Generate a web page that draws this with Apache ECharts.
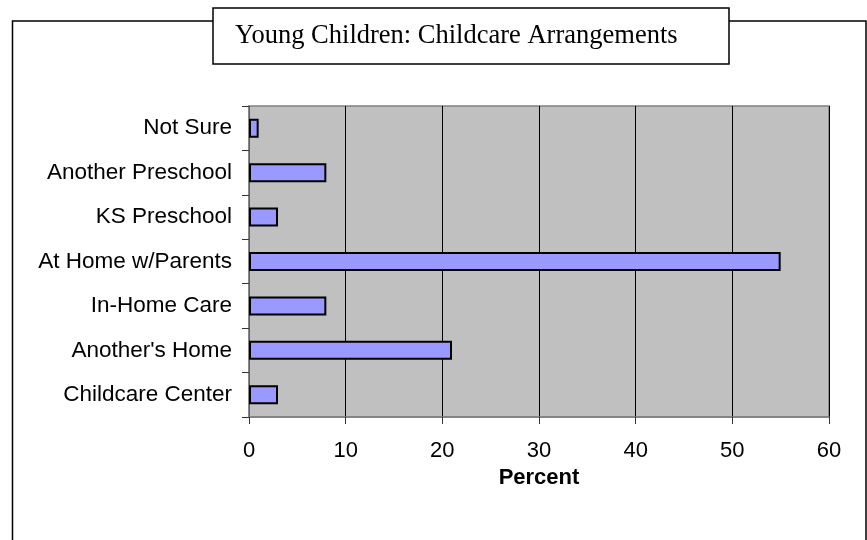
<!DOCTYPE html>
<html>
<head>
<meta charset="utf-8">
<script src="https://cdn.jsdelivr.net/npm/echarts@6/dist/echarts.min.js"></script>
<style>html,body{margin:0;padding:0;background:#fff;}#c{width:867px;height:540px;}</style>
</head>
<body>
<div id="c"></div>
<script>
const titleText = 'Young Children: Childcare Arrangements';
const categories = ['Childcare Center', "Another's Home", 'In-Home Care', 'At Home w/Parents', 'KS Preschool', 'Another Preschool', 'Not Sure'];
const percentValues = [3, 21, 8, 55, 3, 8, 1];
const xTicks = [0, 10, 20, 30, 40, 50, 60];

const chart = echarts.init(document.getElementById('c'), null, {renderer: 'canvas'});
chart.setOption({
  animation: false,
  backgroundColor: '#fff',
  graphic: [{
    type: 'rect', z: -1, silent: true,
    shape: {x: 12.5, y: 21, width: 853.5, height: 530},
    style: {fill: '#fff', stroke: '#000', lineWidth: 1.5}
  }],
  title: {
    text: titleText,
    left: 213, top: 8,
    padding: [14, 52, 14, 22],
    borderColor: '#000', borderWidth: 1.5,
    backgroundColor: '#fff',
    textStyle: {fontFamily: 'Liberation Serif', fontSize: 26.5, fontWeight: 'normal', color: '#000', lineHeight: 28}
  },
  grid: {
    left: 249, top: 106, right: 38, bottom: 123,
    show: true, backgroundColor: '#c0c0c0', borderColor: '#808080', borderWidth: 1.5
  },
  xAxis: {
    type: 'value', min: 0, max: 60, interval: 10,
    name: 'Percent', nameLocation: 'middle', nameGap: 49,
    nameTextStyle: {fontFamily: 'Liberation Sans', fontSize: 22, fontWeight: 'bold', color: '#000'},
    axisLine: {show: true, lineStyle: {color: '#808080', width: 1.5}},
    axisTick: {show: true, length: 7, lineStyle: {color: '#333', width: 1}},
    axisLabel: {margin: 23, fontFamily: 'Liberation Sans', fontSize: 22, color: '#000',
      formatter: v => xTicks.includes(v) ? String(v) : ''},
    splitLine: {show: true, lineStyle: {color: '#000', width: 1}}
  },
  yAxis: {
    type: 'category', data: categories,
    axisLine: {show: true, lineStyle: {color: '#808080', width: 1.5}},
    axisTick: {show: true, length: 7, alignWithLabel: false, lineStyle: {color: '#333', width: 1}},
    axisLabel: {margin: 17, fontFamily: 'Liberation Sans', fontSize: 22.5, color: '#000'},
    splitLine: {show: false}
  },
  series: [{
    type: 'bar', data: percentValues, barWidth: 19,
    itemStyle: {color: '#9999ff', borderColor: '#000', borderWidth: 2}
  }]
});
</script>
</body>
</html>
